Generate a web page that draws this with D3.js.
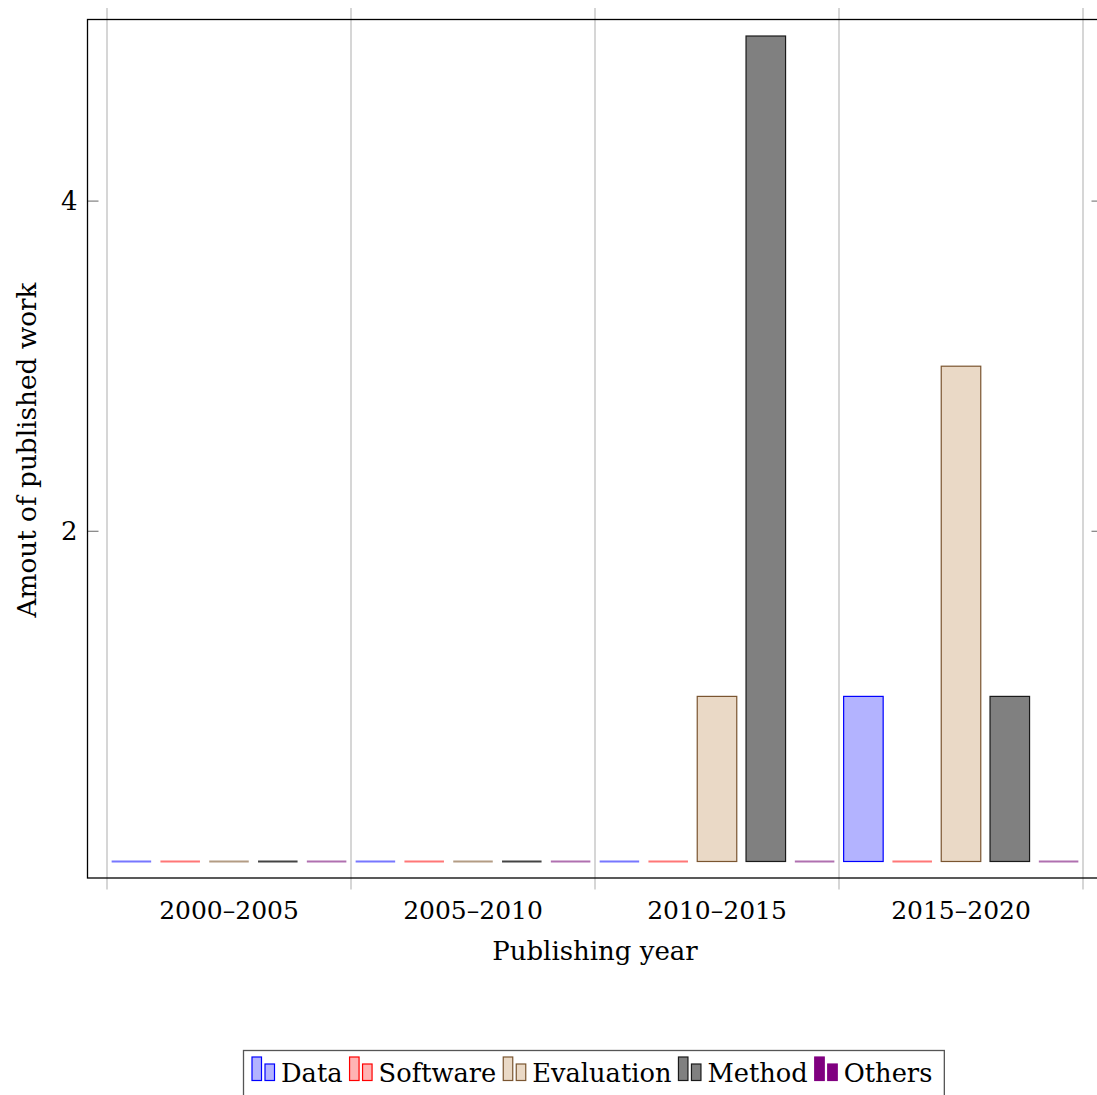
<!DOCTYPE html>
<html>
<head>
<meta charset="utf-8">
<script src="https://cdn.jsdelivr.net/npm/d3@7"></script>
<style>
  html, body { margin: 0; padding: 0; background: #fff; }
  svg { display: block; }
  text { font-family: "DejaVu Serif", serif; fill: #000; }
</style>
</head>
<body>
<svg id="chart" width="1097" height="1095"></svg>
<script>
// ---- data ----
const categories = ["2000–2005", "2005–2010", "2010–2015", "2015–2020"];
const seriesNames = ["Data", "Software", "Evaluation", "Method", "Others"];
const dataValues       = [0, 0, 0, 1];
const softwareValues   = [0, 0, 0, 0];
const evaluationValues = [0, 0, 1, 3];
const methodValues     = [0, 0, 5, 1];
const othersValues     = [0, 0, 0, 0];
const yTicks = [2, 4];
const xLabel = "Publishing year";
const yLabel = "Amout of published work";

const seriesValues = [dataValues, softwareValues, evaluationValues, methodValues, othersValues];
const styles = {
  Data:       { fill: "#b3b3ff", stroke: "#0000ff", zero: "#7777ff" },
  Software:   { fill: "#ffb3b3", stroke: "#ff0000", zero: "#ff7777" },
  Evaluation: { fill: "#ead9c6", stroke: "#7a5530", zero: "#b39c84" },
  Method:     { fill: "#808080", stroke: "#1a1a1a", zero: "#444444" },
  Others:     { fill: "#800080", stroke: "#800080", zero: "#b070b0" }
};

const svg = d3.select("#chart");
const frame = { left: 87.5, right: 1102.5, top: 19.5, bottom: 878 };

// group band scale: boundaries at group edges
const x0 = d3.scaleBand().domain(categories).range([107, 1083]).paddingInner(0).paddingOuter(0);
const x1 = d3.scaleBand().domain(seriesNames).range([0, x0.bandwidth()]).paddingInner(0.19).paddingOuter(0.095);
const y = d3.scaleLinear().domain([-0.1, 5.1]).range([frame.bottom, frame.top]);

// vertical grid lines at group boundaries (extend past the frame as ticks)
const boundaries = categories.map(c => x0(c)).concat([x0(categories[categories.length - 1]) + x0.bandwidth()]);
svg.append("g").selectAll("line").data(boundaries).join("line")
  .attr("x1", d => d).attr("x2", d => d)
  .attr("y1", frame.top - 11.5).attr("y2", frame.bottom + 11.5)
  .attr("stroke", "#cccccc").attr("stroke-width", 1.6);

// y ticks (inside, both sides)
const yt = svg.append("g");
yt.selectAll("line.l").data(yTicks).join("line").attr("class", "l")
  .attr("x1", frame.left).attr("x2", frame.left + 11)
  .attr("y1", d => y(d)).attr("y2", d => y(d))
  .attr("stroke", "#808080").attr("stroke-width", 1.2);
yt.selectAll("line.r").data(yTicks).join("line").attr("class", "r")
  .attr("x1", frame.right - 11).attr("x2", frame.right)
  .attr("y1", d => y(d)).attr("y2", d => y(d))
  .attr("stroke", "#808080").attr("stroke-width", 1.2);
yt.selectAll("text").data(yTicks).join("text")
  .attr("x", frame.left - 10).attr("y", d => y(d))
  .attr("text-anchor", "end").attr("dominant-baseline", "central")
  .attr("font-size", 26).text(d => d);

// bars
const rows = [];
seriesNames.forEach((s, si) => {
  categories.forEach((c, ci) => rows.push({ s, c, v: seriesValues[si][ci] }));
});
const barG = svg.append("g");
barG.selectAll("rect").data(rows.filter(r => r.v > 0)).join("rect")
  .attr("x", r => x0(r.c) + x1(r.s))
  .attr("width", x1.bandwidth())
  .attr("y", r => y(r.v))
  .attr("height", r => y(0) - y(r.v))
  .attr("fill", r => styles[r.s].fill)
  .attr("stroke", r => styles[r.s].stroke)
  .attr("stroke-width", 1.2);
barG.selectAll("line").data(rows.filter(r => r.v === 0)).join("line")
  .attr("x1", r => x0(r.c) + x1(r.s))
  .attr("x2", r => x0(r.c) + x1(r.s) + x1.bandwidth())
  .attr("y1", y(0)).attr("y2", y(0))
  .attr("stroke", r => styles[r.s].zero)
  .attr("stroke-width", 1.8);

// frame
svg.append("rect")
  .attr("x", frame.left).attr("y", frame.top)
  .attr("width", frame.right - frame.left).attr("height", frame.bottom - frame.top)
  .attr("fill", "none").attr("stroke", "#000").attr("stroke-width", 1.3);

// x tick labels
svg.append("g").selectAll("text").data(categories).join("text")
  .attr("x", c => x0(c) + x0.bandwidth() / 2).attr("y", 919)
  .attr("text-anchor", "middle").attr("font-size", 25).text(c => c);

// axis labels
svg.append("text").attr("x", 595).attr("y", 960)
  .attr("text-anchor", "middle").attr("font-size", 26).text(xLabel);
svg.append("text")
  .attr("transform", "translate(36,450) rotate(-90)")
  .attr("text-anchor", "middle").attr("font-size", 26.3).text(yLabel);

// legend
const lg = svg.append("g");
const legendBox = lg.append("rect")
  .attr("fill", "#fff").attr("stroke", "#555").attr("stroke-width", 1.3);
let cx = 252;
const baseY = 1082;
seriesNames.forEach(s => {
  const st = styles[s];
  lg.append("rect").attr("x", cx).attr("y", 1057).attr("width", 9.5).attr("height", 23.5)
    .attr("fill", st.fill).attr("stroke", st.stroke).attr("stroke-width", 1.2);
  lg.append("rect").attr("x", cx + 13).attr("y", 1064).attr("width", 9.5).attr("height", 16.5)
    .attr("fill", st.fill).attr("stroke", st.stroke).attr("stroke-width", 1.2);
  const t = lg.append("text").attr("x", cx + 29).attr("y", baseY).attr("font-size", 25.7).text(s);
  const w = t.node().getComputedTextLength();
  cx = cx + 29 + w + 7;
});
legendBox.attr("x", 243.5).attr("y", 1050.5).attr("width", cx - 243.5 + 5).attr("height", 60);
</script>
</body>
</html>
